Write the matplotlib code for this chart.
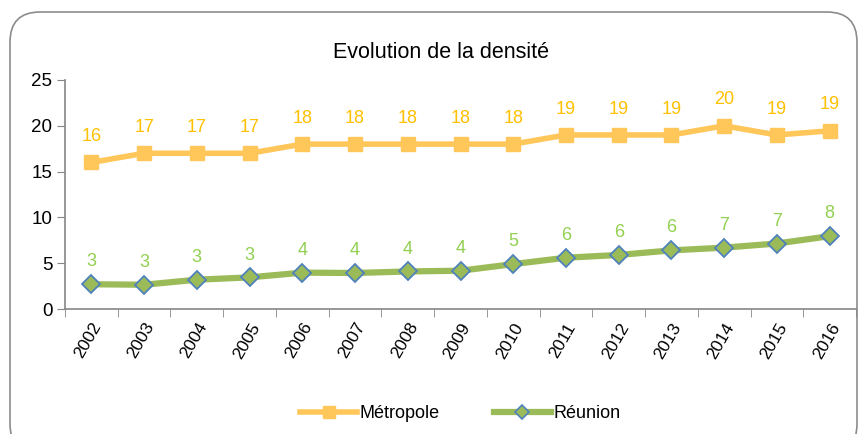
import matplotlib
matplotlib.use("Agg")
import matplotlib.pyplot as plt
from matplotlib.patches import FancyBboxPatch
from matplotlib.lines import Line2D
import numpy as np

plt.rcParams['font.family'] = ['Liberation Sans', 'DejaVu Sans']

years = ['2002', '2003', '2004', '2005', '2006', '2007', '2008', '2009',
         '2010', '2011', '2012', '2013', '2014', '2015', '2016']
metropole = [16.0, 17.0, 17.0, 17.0, 18.0, 18.0, 18.0, 18.0, 18.0, 19.0, 19.0, 19.0, 20.0, 19.0, 19.45]
reunion = [2.7, 2.65, 3.2, 3.45, 3.97, 3.93, 4.1, 4.18, 4.9, 5.6, 5.9, 6.4, 6.7, 7.15, 7.95]
metro_labels = ['16', '17', '17', '17', '18', '18', '18', '18', '18', '19', '19', '19', '20', '19', '19']
reunion_labels = ['3', '3', '3', '3', '4', '4', '4', '4', '5', '6', '6', '6', '7', '7', '8']
title = 'Evolution de la densité'
series_names = ['Métropole', 'Réunion']

W, H = 860, 434
fig = plt.figure(figsize=(W / 100, H / 100), dpi=100)

# rounded frame
frame = FancyBboxPatch((10 / W, -20 / H), 847 / W, 442 / H,
                       boxstyle="round,pad=0,rounding_size=0.035",
                       transform=fig.transFigure, facecolor='none',
                       edgecolor='#8c8c8c', linewidth=1.2, mutation_aspect=W / H,
                       zorder=-1)
fig.patches.append(frame)

ax = fig.add_axes([65 / W, 1 - 309 / H, (856 - 65) / W, (309 - 80) / H])
ax.set_facecolor('none')

x = np.arange(len(years))
orange_line = '#FFC65A'
orange_text = '#FFC000'
green_line = '#9BBB59'
green_text = '#92D050'

ax.plot(x, metropole, color=orange_line, lw=4, marker='s', ms=10,
        mfc=orange_line, mec=orange_line, zorder=3)
ax.plot(x, reunion, color=green_line, lw=4.5, marker='D', ms=9,
        mfc=green_line, mec='#4F81BD', mew=1.3, zorder=3)

for xi, v, lab in zip(x, metropole, metro_labels):
    ax.annotate(lab, (xi, v), xytext=(0, 12.5), textcoords='offset points',
                ha='center', va='bottom', color=orange_text, fontsize=13)
for xi, v, lab in zip(x, reunion, reunion_labels):
    ax.annotate(lab, (xi, v), xytext=(0, 10), textcoords='offset points',
                ha='center', va='bottom', color=green_text, fontsize=13)

ax.set_xlim(-0.5, len(years) - 0.5)
ax.set_ylim(0, 25)
ax.set_yticks([0, 5, 10, 15, 20, 25])
ax.tick_params(axis='y', labelsize=13.5, length=6, color='#868686', pad=3)

ax.set_xticks(x)
ax.set_xticklabels(years, rotation=60, ha='right', va='top',
                   rotation_mode='anchor', fontsize=12.5)
ax.tick_params(axis='x', which='major', length=0, pad=8)
ax.set_xticks(np.arange(-0.5, len(years) + 0.5, 1), minor=True)
ax.tick_params(axis='x', which='minor', length=6, color='#868686')

for s in ['top', 'right']:
    ax.spines[s].set_visible(False)
for s in ['left', 'bottom']:
    ax.spines[s].set_color('#868686')
    ax.spines[s].set_linewidth(1.2)

fig.text(441 / W, 1 - 52 / H, title, ha='center', va='center', fontsize=15.5)

handles = [
    Line2D([], [], color=orange_line, lw=4, marker='s', ms=9, mfc=orange_line, mec=orange_line),
    Line2D([], [], color=green_line, lw=4.5, marker='D', ms=7, mfc=green_line, mec='#4F81BD', mew=1.2),
]
fig.legend(handles, series_names, loc='center', bbox_to_anchor=(460 / W, 1 - 414 / H),
           ncol=2, frameon=False, fontsize=13, handlelength=3.2, handletextpad=0.1,
           columnspacing=3.0)

fig.savefig('out.png', dpi=100)
